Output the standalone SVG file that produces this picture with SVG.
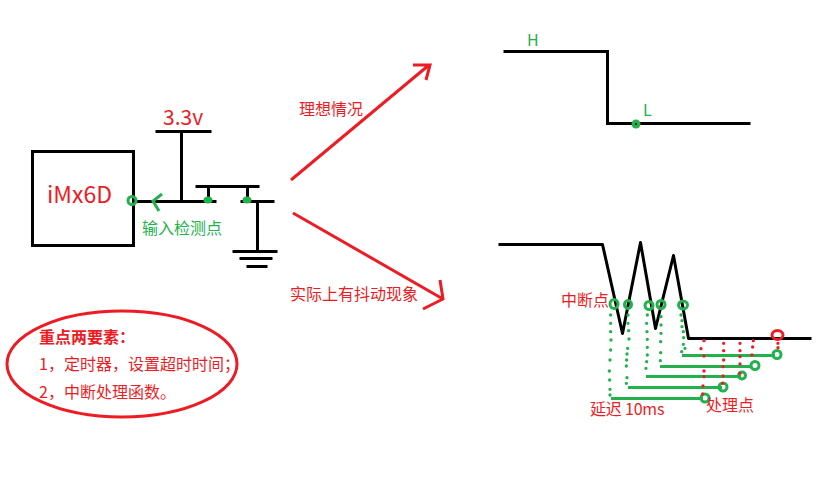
<svg xmlns="http://www.w3.org/2000/svg" width="838" height="486" viewBox="0 0 838 486">
<style>
text{font-family:"Noto Sans CJK SC","Noto Sans",sans-serif;font-size:16px;fill:#ed1c24}
text.g{fill:#22b14c}
.k{fill:none;stroke:#000;stroke-width:3;transform:translate(.5px,.5px)}
.r{fill:none;stroke:#ed1c24;stroke-width:3}
.gl{fill:none;stroke:#22b14c;stroke-width:3}
.gd{fill:none;stroke:#22b14c;stroke-width:10;stroke-linecap:round}
.rd{fill:none;stroke:#ed1c24;stroke-width:10;stroke-linecap:round}
</style>
<rect width="838" height="486" fill="#fff"/>
<g id="connectors">
<path class="k" d="M133 201H216M240 201H274M181 131V201M155 131H211M257 201V251M195 186H259M208 186V200M247 186V200"/>
<path class="r" d="M291 180L429 65M413 65H430L426 80"/>
<path class="r" d="M293 213L443 299M440 280L443 299L423 309"/>
<path class="gl" d="M162 194L153 201L159 211"/>
</g>
<g id="imx6d"><rect class="k" x="32" y="151" width="101" height="94"/><text x="47" y="203" style="font-size:23px">iMx6D</text></g>
<g id="vcc"><text x="163" y="125" style="font-size:21px">3.3v</text></g>
<g id="input-point"><circle class="gl" cx="132" cy="200.500" r="4"/><text class="g" x="142" y="234">输入检测点</text></g>
<g id="switch"><ellipse cx="208" cy="200" rx="4.500" ry="3.500" fill="#22b14c"/><ellipse cx="247" cy="200" rx="4.500" ry="3.500" fill="#22b14c"/></g>
<g id="ground"><path class="k" d="M232 251H277M239 258H272M246 266H267"/></g>
<g id="ideal-label"><text x="299" y="115">理想情况</text></g>
<g id="actual-label"><text x="290" y="300">实际上有抖动现象</text></g>
<g id="ideal-wave"><path class="k" d="M503 51H607V123H750"/><circle cx="636" cy="124" r="4.500" fill="#22b14c"/><circle cx="636" cy="124" r="1" fill="#000"/><text class="g" x="527" y="46" style="font-size:16px">H</text><text class="g" x="643" y="116" style="font-size:16px">L</text></g>
<g id="bounce-wave"><path class="k" stroke-linejoin="round" d="M498 244H602L622 333L640 242L655 328L673 255L688 338H811"/></g>
<g id="interrupt-points">
<ellipse class="gl" cx="614" cy="304" rx="4" ry="4.500"/><ellipse class="gl" cx="628" cy="304.500" rx="3.500" ry="4"/><ellipse class="gl" cx="649" cy="305.500" rx="4" ry="4"/><ellipse class="gl" cx="661" cy="304.500" rx="4" ry="4"/><ellipse class="gl" cx="683" cy="305" rx="4.500" ry="4"/>
<text x="561" y="306">中断点</text>
</g>
<g id="delay">
<path class="gl" d="M611 398.500H703M628 387.500H722M646 376.500H741M660 366.500H752M682 355.500H775"/>
<circle class="gl" cx="705" cy="398" r="4"/><circle class="gl" cx="723" cy="387" r="4"/><circle class="gl" cx="742" cy="375.500" r="3.500"/><circle class="gl" cx="755" cy="365.500" r="4"/><circle class="gl" cx="777" cy="354.500" r="4"/>
<g transform="translate(550 230) scale(.3333)">
<path class="gd" d="M182 255h0M182 280h0M182 305h0M183 330h0M182 360h0M180 390h0M178 423h0M179 450h0M180 478h0M180 495h0M234 255h0M234 280h0M236 302h0M237 327h0M233 355h0M231 372h0M230 390h0M229 408h0M231 443h0M229 460h0M292 255h0M290 280h0M291 305h0M292 328h0M292 352h0M292 375h0M290 395h0M288 415h0M333 260h0M333 285h0M333 310h0M332 335h0M332 368h0M331 392h0M393 255h0M396 272h0M396 290h0M400 305h0M401 323h0M400 343h0M405 355h0M395 365h0"/>
<path class="rd" d="M462 332h0M453 356h0M462 378h0M462 423h0M462 440h0M459 468h0M458 492h0M521 340h0M521 362h0M521 390h0M519 410h0M519 438h0M518 460h0M570 340h0M570 362h0M570 380h0M570 402h0M570 430h0M610 332h0M608 351h0M606 375h0M684 340h0M684 353h0"/>
</g>
<text x="590" y="415" style="letter-spacing:-.2px">延迟 10ms</text>
</g>
<g id="process-points"><ellipse class="r" cx="777.500" cy="335" rx="5.500" ry="4.500"/><text x="706" y="411">处理点</text></g>
<g id="note"><ellipse class="r" cx="122" cy="364" rx="115" ry="53"/><text x="39" y="343" font-weight="700">重点两要素：</text><text x="39" y="370">1，定时器，设置超时时间；</text><text x="39" y="398">2，中断处理函数。</text></g>
</svg>
